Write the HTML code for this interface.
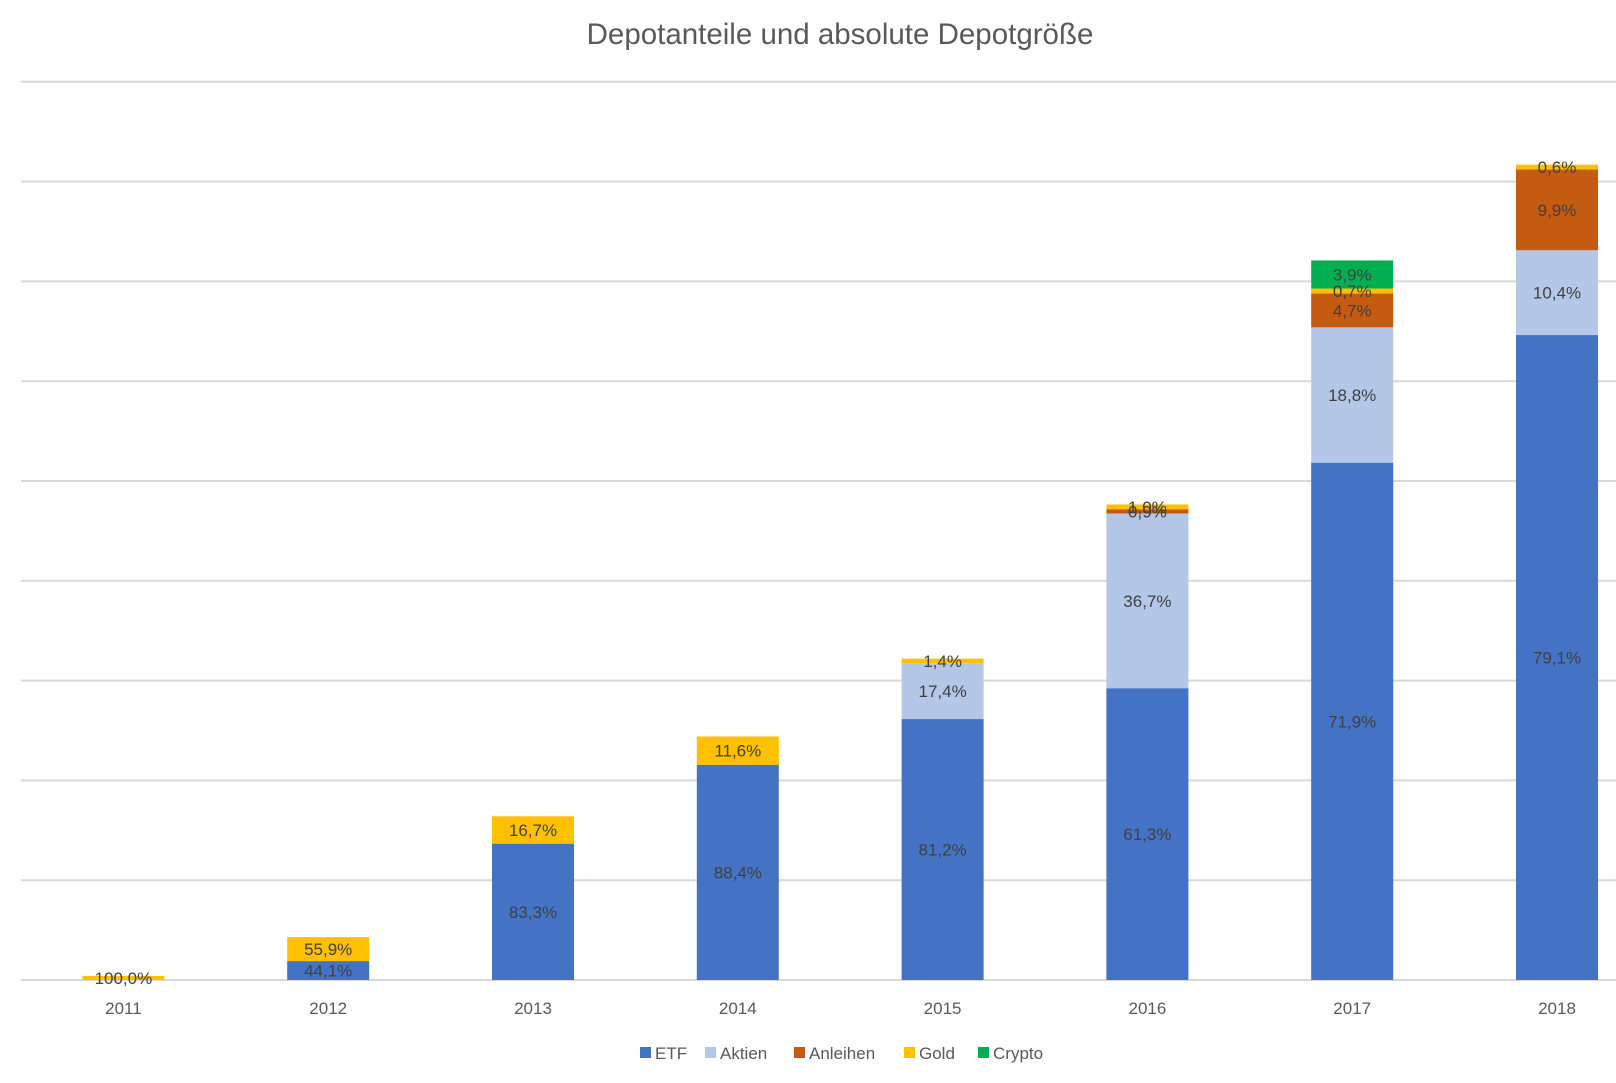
<!DOCTYPE html>
<html><head><meta charset="utf-8"><style>
html,body{margin:0;padding:0;background:#fff;}
svg{display:block;font-family:"Liberation Sans",sans-serif;}
</style></head><body>
<svg id="chart" width="1616" height="1083" viewBox="0 0 1616 1083">
<text x="840" y="44" text-anchor="middle" font-size="29.5" fill="#595959">Depotanteile und absolute Depotgröße</text>
<g id="grid"></g>
<g id="bars"></g>
<g id="xlabels"></g>
<g id="legend"></g>
</svg>
<script>
const years = ["2011","2012","2013","2014","2015","2016","2017","2018"];
const totals = [0.04,0.43,1.64,2.44,3.22,4.77,7.21,8.17];
const etf = [0,44.1,83.3,88.4,81.2,61.3,71.9,79.1];
const aktien = [0,0,0,0,17.4,36.7,18.8,10.4];
const anleihen = [0,0,0,0,0,0.9,4.7,9.9];
const gold = [100,55.9,16.7,11.6,1.4,1.0,0.7,0.6];
const crypto = [0,0,0,0,0,0,3.9,0];
const seriesNames = ["ETF","Aktien","Anleihen","Gold","Crypto"];
const seriesColors = ["#4472c4","#b4c7e7","#c55a11","#ffc000","#00b050"];
const gridTicks = [0,1,2,3,4,5,6,7,8,9];

const NS="http://www.w3.org/2000/svg";
const baseY=980, unit=99.8, left=21, band=204.8, barW=82;
const y=v=>baseY-v*unit;
const xc=i=>left+band*(i+0.5);
function mk(tag,attrs,parent){const e=document.createElementNS(NS,tag);for(const k in attrs)e.setAttribute(k,attrs[k]);parent.appendChild(e);return e;}

const grid=document.getElementById('grid');
gridTicks.forEach(t=>{
  const l=mk('line',{x1:left,x2:1616,y1:y(t),y2:y(t),stroke:'#d9d9d9','stroke-width':2},grid);
  
  
});

const bars=document.getElementById('bars');
const series=[etf,aktien,anleihen,gold,crypto];
years.forEach((yr,i)=>{
  let cum=0;
  series.forEach((s,si)=>{
    const p=s[i]; if(!p) return;
    const v0=totals[i]*cum/100, v1=totals[i]*(cum+p)/100;
    cum+=p;
    const r=mk('rect',{x:xc(i)-barW/2,y:y(v1),width:barW,height:Math.max(y(v0)-y(v1),0.5),fill:seriesColors[si]},bars);
    
    
  });
  cum=0;
  series.forEach((s,si)=>{
    const p=s[i]; if(!p) return;
    const v0=totals[i]*cum/100, v1=totals[i]*(cum+p)/100;
    cum+=p;
    const t=mk('text',{x:xc(i),y:(y(v0)+y(v1))/2+6,'text-anchor':'middle','font-size':17,fill:'#404040'},bars);
    t.textContent=p.toFixed(1).replace('.',',')+'%';
    
    
  });
});

const xl=document.getElementById('xlabels');
years.forEach((yr,i)=>{
  const t=mk('text',{x:xc(i),y:1014,'text-anchor':'middle','font-size':17,fill:'#595959'},xl);
  t.textContent=yr;
  
  
});

const lg=document.getElementById('legend');
const lx=[640,705,794,904,978];
seriesNames.forEach((n,i)=>{
  const g=mk('g',{},lg);
  
  
  mk('rect',{x:lx[i],y:1047,width:11,height:11,fill:seriesColors[i]},g);
  const t=mk('text',{x:lx[i]+15,y:1059,'font-size':17,fill:'#595959'},g);
  t.textContent=n;
});
</script>
</body></html>
